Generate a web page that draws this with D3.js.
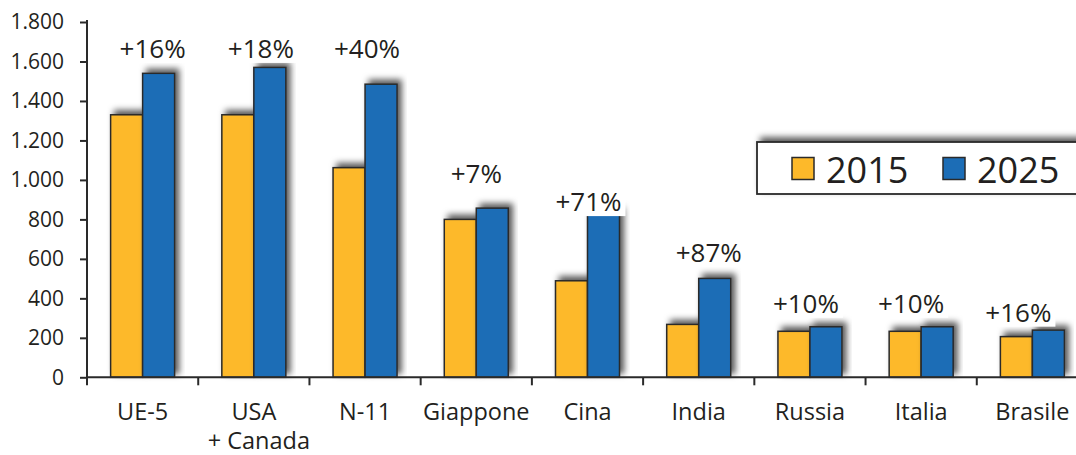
<!DOCTYPE html>
<html>
<head>
<meta charset="utf-8">
<script src="https://cdn.jsdelivr.net/npm/d3@7"></script>
<style>
  html, body { margin: 0; padding: 0; background: #fff; }
  svg { display: block; }
  text { font-family: "Open Sans", "DejaVu Sans", sans-serif; fill: #231f20; }
</style>
</head>
<body>
<svg id="chart" width="1076" height="455"></svg>
<script>
// Regions / countries (multi-line labels split on "\n")
const categories = ["UE-5", "USA\n+ Canada", "N-11", "Giappone", "Cina", "India", "Russia", "Italia", "Brasile"];
const years = ["2015", "2025"];
const values2015 = [1330, 1330, 1062, 800, 489, 268, 233, 233, 206];
const values2025 = [1540, 1570, 1485, 857, 836, 501, 256, 256, 239];
const growthLabels = ["+16%", "+18%", "+40%", "+7%", "+71%", "+87%", "+10%", "+10%", "+16%"];
// height (in data units) at which each growth label sits
const growthLabelLevel = [1618, 1618, 1618, 983, 842, 586, 327, 327, 282];
const yTicks = [0, 200, 400, 600, 800, 1000, 1200, 1400, 1600, 1800];

const colors = { "2015": "#fdb92a", "2025": "#1c6db6" };
const stroke = "#2a2a2a";
// horizontal nudge of each growth label relative to its group centre (px)
const labelNudge = [10, 7, 2, 0, 1, 10, -4, -10, -14];

const svg = d3.select("#chart");

// drop shadow used by bars and legend
const defs = svg.append("defs");
const f = defs.append("filter").attr("id", "shadow")
  .attr("x", "-30%").attr("y", "-30%").attr("width", "160%").attr("height", "160%");
f.append("feDropShadow").attr("dx", 4).attr("dy", -4).attr("stdDeviation", 3.3)
  .attr("flood-color", "#000").attr("flood-opacity", 0.65);

const x = d3.scaleBand().domain(categories).range([87, 1088]).paddingInner(0).paddingOuter(0);
const groupW = 64;
const x1 = d3.scaleBand().domain(years).range([0, groupW]);
const y = d3.scaleLinear().domain([0, 1800]).range([377.3, 22]);

const rows = categories.map((c, i) => ({
  cat: c,
  vals: [{ year: "2015", v: values2015[i] }, { year: "2025", v: values2025[i] }],
  label: growthLabels[i],
  level: growthLabelLevel[i],
  nudge: labelNudge[i]
}));

// bars
const groups = svg.append("g").selectAll("g").data(rows).join("g")
  .attr("transform", d => `translate(${x(d.cat) + (x.bandwidth() - groupW) / 2},0)`);

groups.selectAll("rect").data(d => d.vals).join("rect")
  .attr("x", d => x1(d.year))
  .attr("y", d => y(d.v))
  .attr("width", x1.bandwidth())
  .attr("height", d => y(0) - y(d.v))
  .attr("fill", d => colors[d.year])
  .attr("stroke", stroke)
  .attr("stroke-width", 1.5)
  .attr("filter", "url(#shadow)");

// growth labels on white plates
const lbl = svg.append("g").selectAll("g").data(rows).join("g");
lbl.each(function (d) {
  const g = d3.select(this);
  const cx = x(d.cat) + x.bandwidth() / 2 + d.nudge;
  const base = y(d.level);
  const t = g.append("text")
    .attr("x", cx)
    .attr("y", base)
    .attr("text-anchor", "middle")
    .attr("font-size", 26)
    .text(d.label);
  const b = t.node().getBBox();
  g.insert("rect", "text")
    .attr("x", b.x - 4).attr("y", b.y + 2)
    .attr("width", b.width + 8).attr("height", base + 5 - (b.y + 2))
    .attr("fill", "#fff");
});

// y axis
const yAxis = svg.append("g").attr("transform", "translate(87,0)")
  .call(d3.axisLeft(y).tickValues(yTicks).tickSize(7).tickPadding(16)
    .tickFormat(d => d3.format(",")(d).replace(/,/g, ".")));
yAxis.select(".domain").attr("stroke", stroke).attr("stroke-width", 2).attr("d", `M0,20V${y(0)}`);
yAxis.selectAll(".tick line").attr("stroke", stroke).attr("stroke-width", 2);
yAxis.selectAll(".tick text").attr("font-size", 21).attr("fill", "#231f20")
  .style("font-family", '"Open Sans", "DejaVu Sans", sans-serif');

// x axis baseline and category separators
const xg = svg.append("g");
xg.append("line").attr("x1", 87).attr("x2", 1076).attr("y1", y(0)).attr("y2", y(0))
  .attr("stroke", stroke).attr("stroke-width", 2);
xg.selectAll("line.sep").data(categories).join("line").attr("class", "sep")
  .attr("x1", d => x(d)).attr("x2", d => x(d))
  .attr("y1", y(0)).attr("y2", y(0) + 8)
  .attr("stroke", stroke).attr("stroke-width", 2);

const xl = xg.selectAll("text").data(categories).join("text")
  .attr("text-anchor", "middle")
  .attr("font-size", 23.5)
  .attr("y", 420);
xl.each(function (d) {
  const lines = d.split("\n");
  const cx = x(d) + x.bandwidth() / 2;
  d3.select(this).selectAll("tspan").data(lines).join("tspan")
    .attr("x", (s, i) => cx + (i === 0 ? 0 : 5))
    .attr("dy", (s, i) => i === 0 ? 0 : 29)
    .text(s => s);
});

// legend
const lg = svg.append("g");
lg.append("rect").attr("x", 757).attr("y", 142).attr("width", 340).attr("height", 52)
  .attr("fill", "#fff").attr("stroke", stroke).attr("stroke-width", 1.8)
  .attr("filter", "url(#shadow)");
const legendItems = [{ year: "2015", sx: 792, tx: 826 }, { year: "2025", sx: 943, tx: 977 }];
legendItems.forEach(it => {
  lg.append("rect").attr("x", it.sx).attr("y", 157.5).attr("width", 22).attr("height", 22)
    .attr("fill", colors[it.year]).attr("stroke", stroke).attr("stroke-width", 1.5);
  lg.append("text").attr("x", it.tx).attr("y", 183).attr("font-size", 36).text(it.year);
});
</script>
</body>
</html>
